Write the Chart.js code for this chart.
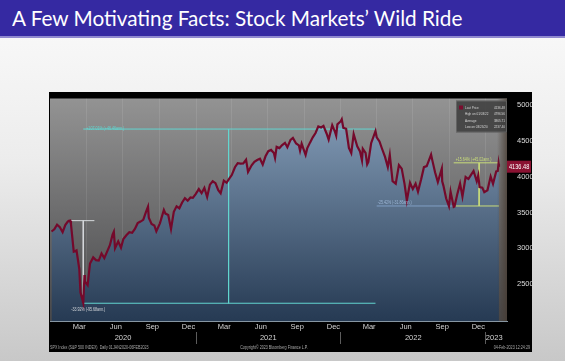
<!DOCTYPE html>
<html>
<head>
<meta charset="utf-8">
<script src="https://cdn.jsdelivr.net/npm/chart.js@4.4.1/dist/chart.umd.min.js"></script>
<style>
  html, body { margin: 0; padding: 0; }
  body {
    width: 565px; height: 361px; overflow: hidden; position: relative;
    background: linear-gradient(to bottom, #fbfbfb 0%, #ececec 45%, #c8c8c8 100%);
    font-family: Lato, sans-serif;
  }
  .title {
    position: absolute; left: 0; top: 0; width: 565px; height: 36px;
    background: #3529a2; border-bottom: 2px solid #8f88cf;
  }
  .title span {
    position: absolute; left: 12px; top: 7px; color: #fff; font-size: 21px;
    line-height: 21px; white-space: nowrap; transform-origin: left top;
  }
  #wrap { position: absolute; left: 49px; top: 92px; width: 483px; height: 260px; }
</style>
</head>
<body>
<div class="title"><span id="ttl">A Few Motivating Facts: Stock Markets’ Wild Ride</span></div>
<div id="wrap"><canvas id="spx" width="483" height="260"></canvas></div>
<script>
// S&P 500 closes (weekly-ish, plus the turning points)
const dates = [
  '2020-01-03','2020-01-10','2020-01-17','2020-01-24','2020-01-31','2020-02-07','2020-02-14','2020-02-19',
  '2020-02-21','2020-02-28','2020-03-06','2020-03-13','2020-03-16','2020-03-20','2020-03-23','2020-03-26',
  '2020-03-27','2020-04-03','2020-04-09','2020-04-17','2020-04-24','2020-05-01','2020-05-08','2020-05-15',
  '2020-05-22','2020-05-29','2020-06-05','2020-06-08','2020-06-11','2020-06-19','2020-06-26','2020-07-02',
  '2020-07-10','2020-07-17','2020-07-24','2020-07-31','2020-08-07','2020-08-14','2020-08-21','2020-08-28',
  '2020-09-02','2020-09-04','2020-09-11','2020-09-18','2020-09-23','2020-10-02','2020-10-12','2020-10-16',
  '2020-10-23','2020-10-30','2020-11-06','2020-11-13','2020-11-20','2020-11-27','2020-12-04','2020-12-11',
  '2020-12-18','2020-12-24','2020-12-31',
  '2021-01-08','2021-01-15','2021-01-22','2021-01-29','2021-02-05','2021-02-12','2021-02-19','2021-02-26',
  '2021-03-04','2021-03-12','2021-03-19','2021-03-26','2021-04-01','2021-04-09','2021-04-16','2021-04-23',
  '2021-04-30','2021-05-07','2021-05-12','2021-05-21','2021-05-28','2021-06-04','2021-06-11','2021-06-18',
  '2021-06-25','2021-07-02','2021-07-09','2021-07-16','2021-07-19','2021-07-23','2021-07-30','2021-08-06',
  '2021-08-13','2021-08-19','2021-08-27','2021-09-02','2021-09-10','2021-09-17','2021-09-20','2021-09-24',
  '2021-10-04','2021-10-08','2021-10-15','2021-10-22','2021-10-29','2021-11-05','2021-11-12','2021-11-18',
  '2021-11-26','2021-12-01','2021-12-10','2021-12-17','2021-12-20','2021-12-23','2021-12-31',
  '2022-01-03','2022-01-07','2022-01-14','2022-01-21','2022-01-27','2022-02-02','2022-02-11','2022-02-18',
  '2022-02-23','2022-02-25','2022-03-04','2022-03-08','2022-03-11','2022-03-18','2022-03-29','2022-04-01',
  '2022-04-08','2022-04-14','2022-04-22','2022-04-29','2022-05-04','2022-05-11','2022-05-19','2022-05-27',
  '2022-06-03','2022-06-10','2022-06-16','2022-06-24','2022-07-01','2022-07-08','2022-07-14','2022-07-22',
  '2022-07-29','2022-08-05','2022-08-16','2022-08-19','2022-08-26','2022-09-02','2022-09-12','2022-09-13',
  '2022-09-16','2022-09-23','2022-09-30','2022-10-04','2022-10-12','2022-10-14','2022-10-21','2022-10-28',
  '2022-11-03','2022-11-11','2022-11-18','2022-11-25','2022-12-01','2022-12-09','2022-12-13','2022-12-16',
  '2022-12-23','2022-12-28',
  '2023-01-05','2023-01-13','2023-01-19','2023-01-27','2023-01-31','2023-02-02','2023-02-03'
];
const closes = [
  3235,3265,3330,3295,3225,3328,3380,3386,
  3338,2954,2972,2711,2386,2305,2237,2630,
  2541,2489,2790,2875,2837,2831,2930,2864,
  2955,3044,3194,3232,3002,3098,3009,3130,
  3185,3225,3216,3271,3351,3373,3397,3508,
  3580,3427,3341,3319,3237,3348,3534,3484,
  3465,3270,3510,3585,3558,3638,3699,3663,
  3709,3703,3756,
  3825,3768,3841,3714,3887,3934,3907,3811,
  3768,3943,3913,3975,4020,4129,4185,4180,
  4181,4233,4063,4156,4204,4230,4247,4166,
  4281,4352,4370,4327,4258,4412,4395,4437,
  4468,4406,4509,4537,4459,4433,4358,4455,
  4300,4391,4471,4545,4605,4697,4682,4704,
  4595,4513,4712,4620,4568,4725,4766,
  4796,4677,4663,4398,4326,4589,4419,4349,
  4225,4385,4329,4170,4204,4463,4632,4546,
  4488,4393,4272,4132,4300,3935,3900,4158,
  4109,3901,3666,3912,3825,3899,3790,3962,
  4130,4145,4305,4228,4058,3924,4110,3932,
  3873,3693,3586,3791,3577,3583,3752,3901,
  3720,3993,3965,4026,4077,3934,4019,3852,
  3845,3783,
  3808,3999,3899,4071,4077,4179,4136.48
];

const yTicks = [2500, 3000, 3500, 4000, 4500, 5000];
const monthLabelDates = ['2020-03-13','2020-06-13','2020-09-13','2020-12-13','2021-03-13','2021-06-13',
  '2021-09-13','2021-12-13','2022-03-13','2022-06-13','2022-09-13','2022-12-13'];
const monthLabels = ['Mar','Jun','Sep','Dec','Mar','Jun','Sep','Dec','Mar','Jun','Sep','Dec'];
const quarterDates = ['2020-04-01','2020-07-01','2020-10-01','2021-01-01','2021-04-01','2021-07-01',
  '2021-10-01','2022-01-01','2022-04-01','2022-07-01','2022-10-01','2023-01-01'];
const yearLabelDates = ['2020-07-01','2021-07-02','2022-07-02','2023-01-22'];
const yearLabels = ['2020','2021','2022','2023'];
const yearBreaks = ['2021-01-01','2022-01-01','2023-01-01'];

// drawdown / rally markers
const dropDates = ['2020-02-12','2020-03-23','2020-04-20'];
const dropLevels = [3386, 2237];
const riseDates = ['2020-03-23','2021-03-24','2022-03-29'];
const riseLevels = [2237, 4660];
const bearDates = ['2022-04-01','2022-10-12'];
const bearLevel = 3590;
const reboundDates = ['2022-10-12','2022-12-15','2023-02-03'];
const reboundLevels = [3590, 4190];
const noteTexts = ['-33.92% (-95.68ann.)', '+107.01% (+46.46ann.)', '-25.42% (-31.86ann.)', '+15.64% (+45.02ann.)'];

const legendNames = ['Last Price', 'High on 01/03/22', 'Average', 'Low on 03/23/20'];
const legendValues = ['4136.48', '4796.56', '3865.71', '2237.40'];

const day = s => (Date.UTC(+s.slice(0, 4), +s.slice(5, 7) - 1, +s.slice(8, 10)) - Date.UTC(2020, 0, 1)) / 86400000;

const points = dates.map((d, i) => ({ x: day(d), y: closes[i] }));
const quarterSet = new Set(quarterDates.map(day));
const breakSet = new Set(yearBreaks.map(day));
const monthMap = new Map(monthLabelDates.map((d, i) => [day(d), monthLabels[i]]));
const yearMap = new Map(yearLabelDates.map((d, i) => [day(d), yearLabels[i]]));

const smallFont = "'Liberation Sans', Arial, sans-serif";

function seg(x1, y1, x2, y2, color) {
  return {
    data: [{ x: day(x1), y: y1 }, { x: day(x2), y: y2 }],
    borderColor: color, borderWidth: 1, pointRadius: 0, fill: false, order: 2
  };
}

// bloomberg text is a narrow face, so squeeze canvas text horizontally
function narrow(ctx, text, x, y, align, sx) {
  ctx.save();
  ctx.translate(x, y);
  ctx.scale(sx || 0.72, 1);
  ctx.textAlign = align;
  ctx.fillText(text, 0, 0);
  ctx.restore();
}

const cyan = '#62d6d0', white = '#d6d9dc', steel = '#7f9fc4', lime = '#c9dd7a';

const datasets = [
  {
    data: points,
    borderColor: '#74092b',
    borderWidth: 2.2,
    pointRadius: 0,
    tension: 0,
    order: 0,
    fill: 'start',
    backgroundColor: c => {
      const a = c.chart.chartArea;
      if (!a) return 'rgba(0,0,0,0)';
      const g = c.chart.ctx.createLinearGradient(0, a.top, 0, a.bottom);
      g.addColorStop(0, '#89a2bd');
      g.addColorStop(1, '#263a53');
      return g;
    }
  },
  seg(dropDates[0], dropLevels[0], dropDates[2], dropLevels[0], white),
  seg(dropDates[1], dropLevels[0], dropDates[1], dropLevels[1], white),
  seg(riseDates[0], riseLevels[0], riseDates[2], riseLevels[0], cyan),
  seg(riseDates[0], riseLevels[1], riseDates[2], riseLevels[1], cyan),
  seg(riseDates[1], riseLevels[1], riseDates[1], riseLevels[0], cyan),
  seg(bearDates[0], bearLevel, bearDates[1], bearLevel, steel),
  seg(reboundDates[0], reboundLevels[0], reboundDates[2], reboundLevels[0], lime),
  seg(reboundDates[0], reboundLevels[1], reboundDates[2], reboundLevels[1], lime),
  seg(reboundDates[1], reboundLevels[1], reboundDates[1], reboundLevels[0], lime)
];

const bloomberg = {
  id: 'bloomberg',
  beforeDraw(chart) {
    const { ctx, chartArea: a, width, height } = chart;
    ctx.save();
    ctx.fillStyle = '#000';
    ctx.fillRect(0, 0, width, height);
    const g = ctx.createLinearGradient(0, a.top, 0, a.bottom);
    g.addColorStop(0, '#939393');
    g.addColorStop(1, '#48484a');
    ctx.fillStyle = g;
    ctx.fillRect(a.left, a.top, a.right - a.left, a.bottom - a.top);
    ctx.restore();
  },
  afterDatasetsDraw(chart) {
    const { ctx, chartArea: a } = chart;
    ctx.save();
    const g = ctx.createLinearGradient(a.right - 10, 0, a.right, 0);
    g.addColorStop(0, 'rgba(70,58,48,0)');
    g.addColorStop(1, 'rgba(70,58,48,0.75)');
    ctx.fillStyle = g;
    ctx.fillRect(a.right - 10, a.top, 10, a.bottom - a.top);
    ctx.restore();
  },
  afterDraw(chart) {
    const { ctx, chartArea: a, width } = chart;
    const xs = chart.scales.x, ys = chart.scales.y;
    const px = d => xs.getPixelForValue(day(d));
    const py = v => ys.getPixelForValue(v);
    ctx.save();
    ctx.font = '5px ' + smallFont;
    ctx.textBaseline = 'middle';

    // marker notes
    ctx.fillStyle = white;
    narrow(ctx, noteTexts[0], px(dropDates[1]) + 5, py(dropLevels[1]) + 6, 'center');
    ctx.fillStyle = cyan;
    narrow(ctx, noteTexts[1], px(riseDates[0]) + 3, py(riseLevels[1]) - 0.5, 'left');
    ctx.fillStyle = '#9db7d6';
    narrow(ctx, noteTexts[2], px(bearDates[0]) + 1, py(bearLevel) - 3, 'left');
    ctx.fillStyle = lime;
    narrow(ctx, noteTexts[3], px(reboundDates[0]) + 2, py(reboundLevels[1]) - 3, 'left');

    // legend box
    const bx = a.right - 51, by = a.top + 2;
    ctx.fillStyle = 'rgba(62,62,62,0.88)';
    ctx.fillRect(bx, by, 51, 32);
    ctx.strokeStyle = 'rgba(150,150,150,0.6)';
    ctx.lineWidth = 0.6;
    ctx.strokeRect(bx + 0.5, by + 0.5, 50, 31);
    ctx.fillStyle = '#7a0c2e';
    ctx.fillRect(bx + 3, by + 5, 4, 4);
    ctx.font = '4.4px ' + smallFont;
    legendNames.forEach((n, i) => {
      const ly = by + 7 + i * 6.4;
      ctx.fillStyle = '#d6d6d6';
      narrow(ctx, n, bx + 9, ly, 'left', 0.7);
      narrow(ctx, legendValues[i], bx + 49, ly, 'right', 0.7);
    });

    // last price tag
    const last = closes[closes.length - 1];
    const ty = py(last);
    ctx.fillStyle = '#8a1232';
    ctx.fillRect(a.right, ty - 6, 24, 12);
    ctx.fillStyle = '#ffffff';
    ctx.font = '8px ' + smallFont;
    narrow(ctx, last.toFixed(2), a.right + 2, ty + 0.5, 'left', 0.7);

    // footer
    ctx.font = '4.6px ' + smallFont;
    ctx.fillStyle = '#a8a8a8';
    const fy = chart.height - 4;
    narrow(ctx, 'SPX Index (S&P 500 INDEX)  Daily 01JAN2020-06FEB2023', 1, fy, 'left', 0.8);
    narrow(ctx, 'Copyright© 2023 Bloomberg Finance L.P.', 225, fy, 'center', 0.8);
    narrow(ctx, '04-Feb-2023 12:24:29', width - 2, fy, 'right', 0.8);
    ctx.restore();
  }
};

new Chart(document.getElementById('spx'), {
  type: 'line',
  data: { datasets },
  plugins: [bloomberg],
  options: {
    responsive: false,
    animation: false,
    layout: { padding: { left: 1, top: 0, right: 0, bottom: 8 } },
    plugins: {
      legend: { display: false },
      tooltip: { enabled: false },
      filler: { drawTime: 'beforeDatasetsDraw' }
    },
    scales: {
      x: {
        type: 'linear', position: 'bottom', min: -1.8, max: 1149.2,
        afterBuildTicks: s => {
          s.ticks = [...monthMap.keys(), ...quarterSet].sort((p, q) => p - q).map(v => ({ value: v }));
        },
        afterFit: s => { s.height = 11; },
        ticks: {
          autoSkip: false, maxRotation: 0, padding: 1,
          color: '#d4d4d4', font: { family: smallFont, size: 7.5 },
          callback: v => monthMap.get(v) || ''
        },
        grid: {
          drawTicks: false,
          color: c => (c.tick && quarterSet.has(c.tick.value)) ? 'rgba(255,255,255,0.09)' : 'rgba(0,0,0,0)'
        },
        border: { color: '#8796a2' }
      },
      years: {
        type: 'linear', axis: 'x', position: 'bottom', min: -1.8, max: 1149.2,
        afterBuildTicks: s => {
          s.ticks = [...yearMap.keys(), ...breakSet].sort((p, q) => p - q).map(v => ({ value: v }));
        },
        afterFit: s => { s.height = 12; },
        ticks: {
          autoSkip: false, maxRotation: 0, padding: -11,
          color: '#d4d4d4', font: { family: smallFont, size: 7.5 },
          callback: v => yearMap.get(v) || ''
        },
        grid: {
          drawOnChartArea: false, drawTicks: true, tickLength: 12,
          color: c => (c.tick && breakSet.has(c.tick.value)) ? '#5c5c5c' : 'rgba(0,0,0,0)'
        },
        border: { display: false }
      },
      y: {
        position: 'right', min: 1990, max: 5085,
        afterBuildTicks: s => { s.ticks = yTicks.map(v => ({ value: v })); },
        afterFit: s => { s.width = 25; },
        ticks: {
          padding: 2, color: '#dcdcdc', font: { family: smallFont, size: 7.5 },
          callback: v => String(v)
        },
        grid: { display: false },
        border: { display: false }
      }
    }
  }
});

// squeeze the title to the slide's narrow sans width
const ttl = document.getElementById('ttl');
ttl.style.transform = 'scaleX(' + (450 / ttl.offsetWidth) + ')';
</script>
</body>
</html>
